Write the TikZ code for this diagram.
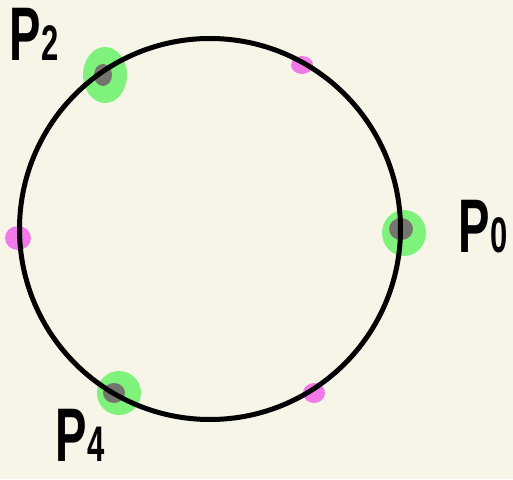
\documentclass[tikz,border=0pt]{standalone}
\usepackage{fontspec}
\setmainfont{Liberation Sans}
\usetikzlibrary{positioning}
\definecolor{paper}{RGB}{247,245,232}
\definecolor{blob}{RGB}{126,242,122}
\definecolor{core}{RGB}{117,117,112}
\definecolor{pinkdot}{RGB}{242,121,232}

\begin{document}
\begin{tikzpicture}[x=1pt, y=1pt,
  glow/.style={fill=blob, draw=none},
  hub/.style={fill=core, draw=none},
  minor/.style={fill=pinkdot, draw=none},
  lab/.style={font=\fontsize{76}{76}\selectfont, inner sep=0pt, xscale=0.62, transform shape}]
\fill[paper] (0,0) rectangle (513,479);
\useasboundingbox (0,0) rectangle (513,479);
\coordinate (c) at (210,250);
% points on the ring
\coordinate (p0) at (401,250);
\coordinate (p1) at (302,414);
\coordinate (p2) at (103,404);
\coordinate (p3) at (18,241);
\coordinate (p4) at (114,86);
\coordinate (p5) at (314,86);
% green blobs
\fill[glow] (404,246) ellipse (22 and 23);
\fill[glow] (105,404) ellipse (22 and 28);
\fill[glow] (119,86) ellipse (22 and 22);
% grey cores
\fill[hub] (p0) ellipse (12 and 11);
\fill[hub] (p2) ellipse (9 and 11);
\fill[hub] (p4) ellipse (11 and 10);
% pink marks
\fill[minor] (p1) ellipse (11 and 9);
\fill[minor] (p3) ellipse (13 and 12);
\fill[minor] (p5) ellipse (11 and 10);
\draw[line width=5pt] (c) circle (190.5);
% labels
\node[lab] (l2) at (34,445) {\bfseries P{\fontsize{50}{50}\selectfont 2}};
\node[lab] (l0) at (483,252) {\bfseries P{\fontsize{50}{50}\selectfont 0}};
\node[lab] (l4) at (80,44) {\bfseries P{\fontsize{50}{50}\selectfont 4}};
\end{tikzpicture}
\end{document}
